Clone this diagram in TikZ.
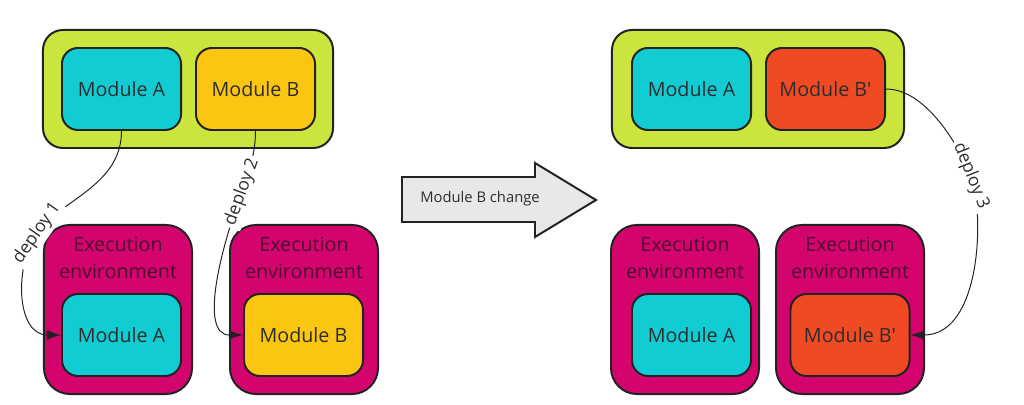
\documentclass[tikz,border=0pt]{standalone}
\usepackage{fontspec}
\setmainfont{Open Sans}
\usepackage{tikz}
\usetikzlibrary{arrows.meta,positioning}
\usepackage{xcolor}
\definecolor{limegroup}{RGB}{204,228,62}
\definecolor{modcyan}{RGB}{18,204,212}
\definecolor{modyellow}{RGB}{250,198,18}
\definecolor{modred}{RGB}{240,74,36}
\definecolor{envpink}{RGB}{212,4,110}
\definecolor{edgedark}{RGB}{34,34,34}
\definecolor{textdark}{RGB}{45,45,45}
\definecolor{envtext}{RGB}{78,8,48}
\definecolor{changegray}{RGB}{232,232,232}

\begin{document}
\begin{tikzpicture}[x=0.025cm,y=-0.025cm,
  holder/.style={draw=edgedark,line width=1.4pt,fill=limegroup,rounded corners=0.5cm,minimum height=2.95cm},
  envbox/.style={draw=edgedark,line width=1.4pt,fill=envpink,rounded corners=0.65cm,minimum width=3.7cm,minimum height=4.225cm},
  module/.style={draw=edgedark,line width=1.4pt,rounded corners=0.4cm,minimum width=2.975cm,minimum height=2.05cm,inner sep=0pt,text=textdark,font=\fontsize{14}{17}\selectfont},
  envlabel/.style={inner sep=0pt,align=center,text=envtext,font=\fontsize{14}{19}\selectfont},
  deploy/.style={line width=0.7pt,draw=edgedark,-{Latex[length=10pt,width=7pt]}},
  tag/.style={sloped,fill=white,inner sep=2pt,text=textdark,font=\fontsize{12.5}{15}\selectfont}]
  \useasboundingbox (0,0) rectangle (1024,405);

  % before the change
  \node[holder,minimum width=7.25cm] (grpL) at (188,89) {};
  \node[module,fill=modcyan] (topA) at (121.5,89) {Module A};
  \node[module,fill=modyellow] (topB) at (255.5,89) {Module B};
  \node[envbox] (envL1) at (118,309.5) {};
  \node[envbox] (envL2) at (304,309.5) {};
  \node[envlabel,below=0.325cm of envL1.north] (txtL1) {Execution\\environment};
  \node[envlabel,below=0.325cm of envL2.north] (txtL2) {Execution\\environment};
  \node[module,fill=modcyan] (botA) at (121.5,335) {Module A};
  \node[module,fill=modyellow] (botB) at (303.5,335) {Module B};

  % change arrow
  \draw[edgedark,line width=1.4pt,fill=changegray,line join=miter]
    (402,177) -- (535,177) -- (535,163) -- (596,200) -- (535,237) -- (535,222) -- (402,222) -- cycle;
  \node[text=textdark,font=\fontsize{10.5}{12}\selectfont] (chg) at (480,199) {Module B change};

  % after the change
  \node[holder,minimum width=7.3cm] (grpR) at (758,89) {};
  \node[module,fill=modcyan] (topA2) at (691.5,89) {Module A};
  \node[module,fill=modred] (topBp) at (825.5,89) {Module B\textquotesingle};
  \node[envbox] (envR1) at (685,309.5) {};
  \node[envbox] (envR2) at (850,309.5) {};
  \node[envlabel,below=0.325cm of envR1.north] (txtR1) {Execution\\environment};
  \node[envlabel,below=0.325cm of envR2.north] (txtR2) {Execution\\environment};
  \node[module,fill=modcyan] (botA2) at (691.5,335) {Module A};
  \node[module,fill=modred] (botBp) at (850,335) {Module B\textquotesingle};

  % deployments
  \coordinate (dep1) at (37,233);
  \coordinate (dep2) at (242,192);
  \coordinate (dep3) at (971,176);
  \draw[deploy] (topA.south) .. controls +(0,55) and +(23,-33) .. (dep1) node[tag,pos=1] {deploy 1}
    .. controls +(-23,33) and +(-45,0) .. (botA.west);
  \draw[deploy] (topB.south) .. controls +(0,20) and +(8,-22) .. (dep2) node[tag,pos=1] {deploy 2}
    .. controls +(-20,52) and +(-45,0) .. (botB.west);
  \draw[deploy] (topBp.east) .. controls +(40,0) and +(-12,-30) .. (dep3) node[tag,pos=1] {deploy 3}
    .. controls +(14,40) and +(70,0) .. (botBp.east);
\end{tikzpicture}
\end{document}
